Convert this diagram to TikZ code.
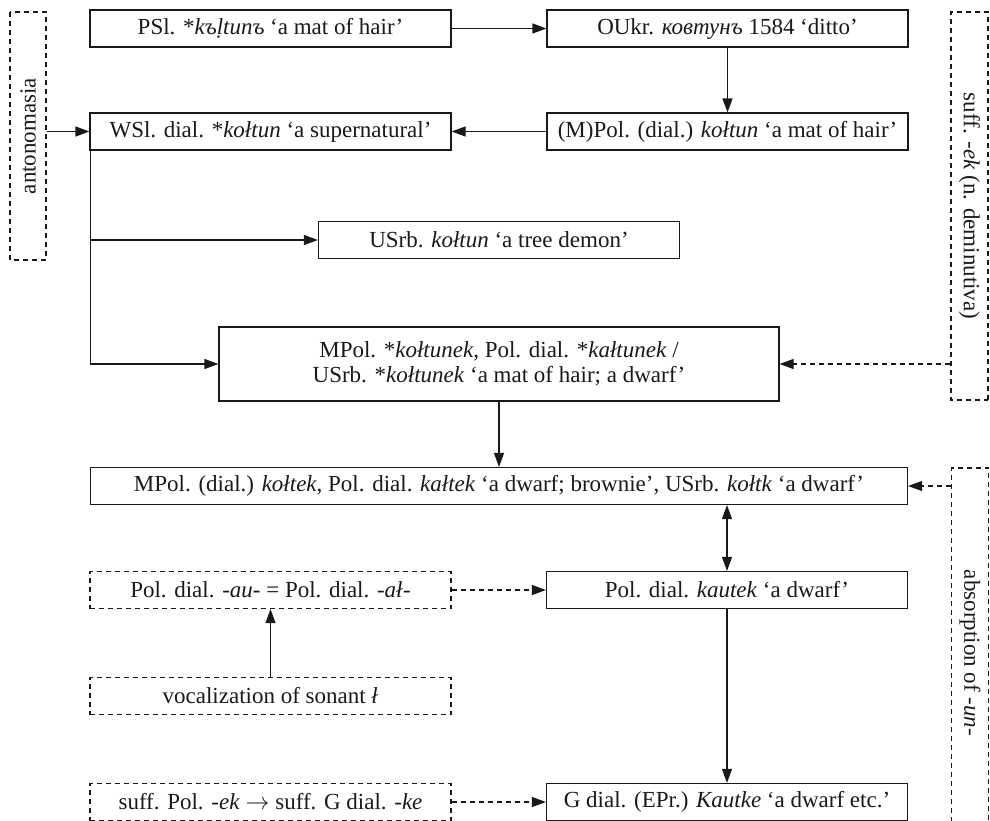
\documentclass[tikz,border=0pt]{standalone}
\usepackage{fontspec}
\setmainfont{Liberation Serif}
\usetikzlibrary{arrows.meta,positioning}

\begin{document}
\begin{tikzpicture}[->,>={Triangle[length=7pt,width=5pt]},line width=0.6pt,color=black!90]
\tikzstyle{every node}=[font=\fontsize{11.5}{12.5}\selectfont]
\tikzstyle{form}=[draw,rectangle,minimum width=180.5pt,minimum height=18.5pt,inner sep=0pt,text centered]
\tikzstyle{note}=[form,dash pattern=on 2.5pt off 2pt]
\tikzstyle{dashes}=[dash pattern=on 2.5pt off 2pt]

\clip (0,0) rectangle (495pt,-410pt);

\node[form,line width=1.3pt] (psl) at (135.25pt,-14.25pt) {PSl. *\textit{kъḷtunъ} `a mat of hair'};
\node[form] (oukr) [right of=psl,node distance=228.5pt] {OUkr. \textit{ковтунъ} 1584 `ditto'};
\node[form] (mpol) [below of=oukr,node distance=51.5pt] {(M)Pol. (dial.) \textit{kołtun} `a mat of hair'};
\node[form] (wsl)  [left of=mpol,node distance=228.5pt] {WSl. dial. *\textit{kołtun} `a supernatural'};
\node[form] (usrb) [below of=wsl,node distance=54.25pt,xshift=114.25pt] {USrb. \textit{kołtun} `a tree demon'};
\node[form,minimum width=280pt,minimum height=37pt,align=center] (kolt) [below of=usrb,node distance=62pt]
  {MPol. *\textit{kołtunek}, Pol. dial. *\textit{kałtunek} /\\USrb. *\textit{kołtunek} `a mat of hair; a dwarf'};
\node[form,minimum width=408.5pt] (kolte) [below of=kolt,node distance=61pt]
  {MPol. (dial.) \textit{kołtek}, Pol. dial. \textit{kałtek} `a dwarf; brownie', USrb. \textit{kołtk} `a dwarf'};
\node[note] (au)   [below of=wsl,node distance=229.25pt] {Pol. dial. -\textit{au}- = Pol. dial. -\textit{ał}-};
\node[form] (kautek) [right of=au,node distance=228.25pt] {Pol. dial. \textit{kautek} `a dwarf'};
\node[note] (voc)  [below of=au,node distance=53pt] {vocalization of sonant \textit{ł}};
\node[note] (sufek) [below of=voc,node distance=53pt] {suff. Pol. -\textit{ek} $\rightarrow$ suff. G dial. -\textit{ke}};
\node[form] (gdial) [right of=sufek,node distance=228.25pt] {G dial. (EPr.) \textit{Kautke} `a dwarf etc.'};

% side notes (rotate would turn a relative shift too)
\coordinate (antonpos) at ([xshift=-121.25pt,yshift=-2.25pt]wsl.center);
\coordinate (suffxpos) at ([xshift=121pt,yshift=-37.25pt]mpol.center);
\coordinate (absorbpos) at ([xshift=235.5pt,yshift=-83.5pt]kolte.center);
\node[note,rotate=90,minimum width=124pt,minimum height=18pt] (anton) at (antonpos) {antonomasia};
\node[note,rotate=-90,minimum width=194pt,minimum height=18.5pt] (suffx) at (suffxpos) {suff. -\textit{ek} (n. deminutiva)};
\node[note,rotate=-90,minimum width=185pt,minimum height=18.5pt] (absorb) at (absorbpos) {absorption of -\textit{un}-};

\path
(psl) edge (oukr)
(oukr) edge (mpol)
(mpol) edge (wsl)
(anton.south |- wsl) edge (wsl)
(suffx.south |- kolt) edge[dashes] (kolt)
(kolt) edge (kolte)
(absorb.south |- kolte) edge[dashes] (kolte)
(kautek.north |- kolte.south) edge[<->] (kautek.north)
(au) edge[dashes] (kautek)
(voc) edge (au)
(kautek) edge (gdial)
(sufek) edge[dashes] (gdial)
;
\draw ([xshift=0.6pt]wsl.south west) |- (kolt.west);
\draw ([xshift=0.6pt]wsl.south west |- usrb) -- (usrb.west);
\end{tikzpicture}
\end{document}
